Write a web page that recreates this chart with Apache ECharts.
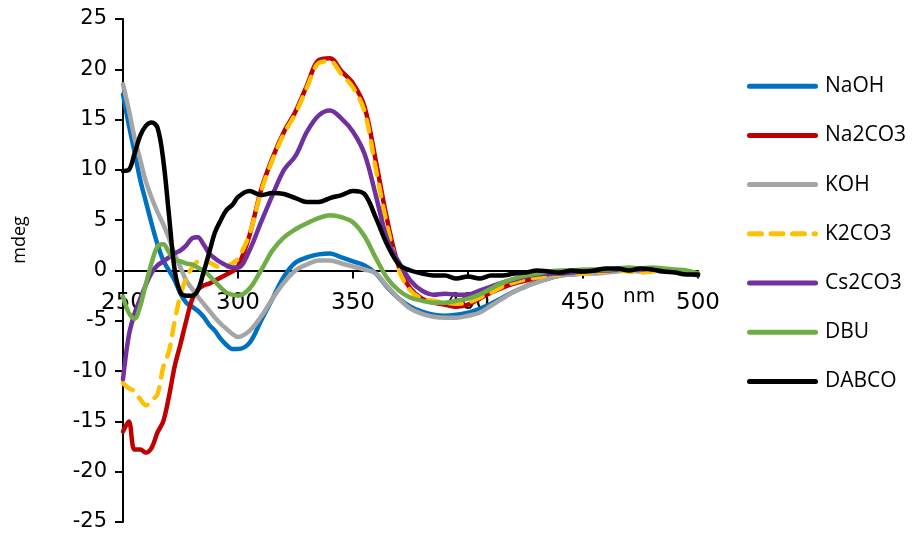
<!DOCTYPE html>
<html><head><meta charset="utf-8">
<script src="https://cdn.jsdelivr.net/npm/echarts@6/dist/echarts.min.js"></script>
<style>html,body{margin:0;padding:0;background:#fff}#c{width:912px;height:533px}</style>
</head><body><div id="c"></div>
<script>
const wavelengths = [250,252.5,255,257.5,260,262.5,265,267.5,270,272.5,275,277.5,280,282.5,285,287.5,290,292.5,295,297.5,300,
  305,310,315,320,325,330,335,340,345,350,355,360,365,370,375,380,385,390,395,400,
  405,410,415,420,425,430,435,440,445,450,455,460,465,470,475,480,485,490,495,500];

const NaOH = [17.5,14.5,11.8,9.0,6.8,4.6,2.6,1.0,0.0,-1.0,-2.3,-3.2,-3.6,-4.0,-4.6,-5.4,-6.0,-6.8,-7.4,-7.8,-7.8,
  -7.2,-5.0,-2.8,-0.6,0.8,1.3,1.6,1.7,1.3,0.9,0.5,-0.3,-1.7,-2.8,-3.6,-4.1,-4.4,-4.5,-4.4,-4.2,
  -3.8,-3.3,-2.7,-2.1,-1.6,-1.1,-0.8,-0.5,-0.4,-0.3,-0.2,-0.1,0.0,0.1,0.0,0.1,0.0,-0.1,-0.1,-0.4];

const Na2CO3 = [-16.0,-15.0,-17.8,-17.8,-18.1,-17.6,-16.1,-15.0,-12.5,-9.5,-7.3,-5.0,-2.9,-1.9,-1.5,-1.3,-1.0,-0.7,-0.4,-0.1,0.4,
  3.5,8.0,11.2,13.8,15.8,18.4,20.9,21.1,19.8,18.6,16.3,10.8,4.9,0.3,-1.8,-2.8,-3.2,-3.4,-3.6,-3.4,
  -2.8,-2.2,-1.7,-1.3,-1.0,-0.7,-0.5,-0.4,-0.3,-0.2,-0.1,0.0,0.1,0.1,0.0,0.1,0.0,-0.1,-0.1,-0.3];

const KOH = [18.5,16.0,13.2,11.0,8.8,7.2,5.8,4.6,3.2,1.6,0.3,-1.0,-1.8,-2.6,-3.3,-4.0,-4.7,-5.3,-5.8,-6.3,-6.6,
  -6.0,-4.6,-2.8,-1.2,0.0,0.6,1.0,1.0,0.7,0.4,0.1,-0.3,-1.6,-2.8,-3.8,-4.3,-4.6,-4.7,-4.7,-4.5,
  -4.2,-3.5,-2.8,-2.1,-1.6,-1.2,-0.8,-0.5,-0.4,-0.3,-0.3,-0.2,-0.1,0.0,-0.1,0.0,-0.1,-0.1,-0.2,-0.4];

const K2CO3 = [-11.2,-11.7,-12.0,-12.8,-13.4,-12.9,-12.3,-9.6,-8.0,-5.0,-2.4,-0.8,0.3,0.9,1.0,0.8,0.5,0.3,0.4,0.7,1.2,
  3.6,7.8,11.0,13.6,15.6,18.2,20.6,20.8,19.5,18.2,15.8,10.0,4.3,0.0,-2.0,-2.8,-3.0,-3.2,-3.3,-3.2,
  -2.7,-2.2,-1.6,-1.2,-0.9,-0.7,-0.5,-0.4,-0.3,-0.3,-0.2,-0.1,0.0,-0.1,-0.2,-0.1,0.0,-0.1,-0.2,-0.3];

const Cs2CO3 = [-10.8,-6.5,-4.3,-2.8,-1.4,-0.2,0.5,0.9,1.3,1.7,2.0,2.5,3.2,3.3,2.6,1.7,1.2,0.8,0.5,0.3,0.3,
  2.0,4.8,7.5,10.0,11.4,13.8,15.4,15.9,15.1,13.8,11.6,7.4,3.0,0.8,-1.0,-2.0,-2.4,-2.3,-2.4,-2.4,
  -2.0,-1.6,-1.2,-0.9,-0.6,-0.4,-0.3,-0.3,-0.2,-0.1,0.0,0.0,0.1,0.2,0.1,0.2,0.1,0.0,-0.2,-0.5];

const DBU = [-2.6,-4.2,-4.8,-3.5,-1.3,0.8,2.4,2.6,1.8,1.1,0.9,0.7,0.6,0.3,0.0,-0.5,-1.1,-1.7,-2.2,-2.4,-2.5,
  -1.8,0.0,2.0,3.3,4.1,4.7,5.2,5.5,5.3,4.8,3.4,1.2,-0.8,-2.0,-2.7,-3.0,-3.2,-3.2,-3.0,-2.8,
  -2.4,-1.8,-1.2,-0.8,-0.5,-0.3,-0.1,0.0,0.0,0.1,0.1,0.1,0.2,0.3,0.2,0.3,0.2,0.1,0.0,-0.3];

const DABCO = [9.9,10.0,11.6,13.4,14.4,14.7,14.2,11.0,5.5,0.0,-2.2,-2.5,-2.5,-2.0,-0.2,1.8,3.8,5.0,6.0,6.5,7.3,
  7.9,7.5,7.7,7.6,7.2,6.8,6.8,7.2,7.5,7.9,7.6,5.2,2.5,0.6,0.0,-0.3,-0.5,-0.5,-0.8,-0.6,
  -0.8,-0.5,-0.5,-0.3,-0.2,0.0,-0.1,-0.2,0.0,-0.1,0.0,0.2,0.2,0.0,0.2,0.1,-0.1,-0.2,-0.4,-0.4];

const seriesNames = ['NaOH','Na2CO3','KOH','K2CO3','Cs2CO3','DBU','DABCO'];
const seriesValues = [NaOH, Na2CO3, KOH, K2CO3, Cs2CO3, DBU, DABCO];
const seriesColors = ['#0070C0','#C00000','#A5A5A5','#FFC000','#7030A0','#70AD47','#000000'];
const xAxisTitle = 'nm';
const yAxisTitle = 'mdeg';

const gridTop = 19, gridBottom = 11, chartH = 533;
const plotH = chartH - gridTop - gridBottom;
// distance from grid bottom edge up to the y=0 line
const zeroOffset = plotH * (0 - (-25)) / 50;

const solidIcon = 'path://M2.5,0h66a2.5,2.5 0 0 1 0,5h-66a2.5,2.5 0 0 1 0,-5z';
const dashIcon = 'path://M2.5,0h12a2.5,2.5 0 0 1 0,5h-12a2.5,2.5 0 0 1 0,-5z M24,0h12a2.5,2.5 0 0 1 0,5h-12a2.5,2.5 0 0 1 0,-5z M45.5,0h12a2.5,2.5 0 0 1 0,5h-12a2.5,2.5 0 0 1 0,-5z M67,0h1.5a2.5,2.5 0 0 1 0,5h-1.5a2.5,2.5 0 0 1 0,-5z';

const chart = echarts.init(document.getElementById('c'), null, {renderer:'canvas'});
const series = seriesNames.map((name, k) => ({
  name: name,
  type: 'line',
  data: wavelengths.map((w, i) => [w, seriesValues[k][i]]),
  showSymbol: false,
  symbol: 'none',
  smooth: 0.35,
  lineStyle: {
    color: seriesColors[k],
    width: 4.5,
    type: name === 'K2CO3' ? [12, 10] : 'solid',
    cap: 'round',
    join: 'round'
  },
  itemStyle: { color: seriesColors[k] },
  emphasis: { disabled: true },
  z: 2 + k
}));

chart.setOption({
  animation: false,
  backgroundColor: '#fff',
  grid: { left: 123, right: 214, top: gridTop, bottom: gridBottom, containLabel: false, outerBoundsMode: 'none' },
  xAxis: {
    type: 'value', min: 250, max: 500, interval: 50,
    position: 'bottom',
    offset: -zeroOffset,
    axisLine: { onZero: false, lineStyle: { color: '#000', width: 2 } },
    axisTick: { show: true, inside: false, length: 8, lineStyle: { color: '#000', width: 2 } },
    axisLabel: { color: '#000', fontFamily: 'DejaVu Sans', fontSize: 23, margin: 21 },
    splitLine: { show: false }
  },
  yAxis: {
    type: 'value', min: -25, max: 25, interval: 5,
    axisLine: { show: true, onZero: false, lineStyle: { color: '#000', width: 2 } },
    axisTick: { show: true, inside: false, length: 8, lineStyle: { color: '#000', width: 2 } },
    axisLabel: { color: '#000', fontFamily: 'DejaVu Sans', fontSize: 21, margin: 16 },
    splitLine: { show: false }
  },
  legend: {
    orient: 'vertical', left: 742, top: 70.7, itemWidth: 71, itemHeight: 5, itemGap: 28.2,
    data: seriesNames.map((n, k) => ({ name: n, icon: n === 'K2CO3' ? dashIcon : solidIcon, itemStyle: { color: seriesColors[k] } })),
    textStyle: { color: '#000', fontFamily: 'Open Sans', fontSize: 21, lineHeight: 20, padding: [0,0,0,2] },
    selectedMode: false
  },
  graphic: [
    { type: 'text', left: 623, top: 287, style: { text: xAxisTitle, fill: '#000', font: '20px "DejaVu Sans"' } },
    { type: 'text', x: 20, y: 240, rotation: Math.PI / 2, style: { text: yAxisTitle, fill: '#000', font: '18px "Open Sans"', align: 'center', verticalAlign: 'middle' } }
  ],
  series: series
});
</script>
</body></html>
